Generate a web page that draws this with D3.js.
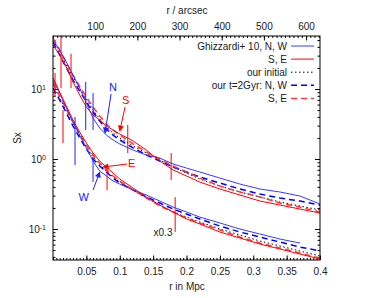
<!DOCTYPE html>
<html><head><meta charset="utf-8">
<script src="https://cdn.jsdelivr.net/npm/d3@7"></script>
<style>
body{margin:0;background:#fff}
text{font-family:"Liberation Sans",Arial,Helvetica,sans-serif;font-size:10px;fill:#222}
</style>
</head><body><svg id="c" width="374" height="298"></svg>
<script>
// ---- data ----
const rGrid = [0, 0.01, 0.02, 0.03, 0.04, 0.05, 0.06, 0.07, 0.08, 0.09, 0.1, 0.12, 0.14, 0.16, 0.18, 0.2, 0.22, 0.25, 0.28, 0.31, 0.34, 0.37, 0.4];

// upper group (N, S)
const upInitial = [50.1,33.8,22.0,14.8,10.3,7.2,5.01,3.73,2.86,2.35,2.0,1.53,1.22,0.968,0.768,0.631,0.518,0.411,0.338,0.287,0.243,0.213,0.187];
const ghN = [50.1,36.1,24.3,15.8,10.3,6.31,3.85,2.77,2.2,1.87,1.64,1.34,1.14,1.03,0.849,0.743,0.652,0.535,0.439,0.373,0.338,0.296,0.228];
const ghS = [42.5,30.6,20.6,12.6,8.2,5.53,4.25,3.61,2.96,2.6,2.28,1.81,1.34,0.936,0.697,0.572,0.469,0.373,0.306,0.251,0.22,0.193,0.169];
const simN = [46.9,30.6,20.0,13.4,9.36,6.52,4.69,3.49,2.68,2.2,1.87,1.44,1.14,0.936,0.768,0.652,0.553,0.454,0.373,0.316,0.277,0.251,0.22];
const simS = [53.5,36.1,23.5,15.8,11.0,7.69,5.53,4.11,3.16,2.6,2.2,1.64,1.26,1.0,0.794,0.652,0.535,0.411,0.338,0.287,0.235,0.206,0.175];

// lower group (W, E), scaled x0.3
const loInitial = [11.4,7.44,4.85,3.27,2.13,1.48,1.07,0.821,0.674,0.553,0.469,0.361,0.277,0.22,0.175,0.148,0.126,0.1,0.0821,0.0674,0.0572,0.0485,0.0411];
const ghW = [13.4,8.77,5.35,3.38,2.2,1.44,0.936,0.674,0.572,0.485,0.439,0.361,0.306,0.251,0.206,0.175,0.148,0.122,0.1,0.0849,0.0719,0.0631];
const ghE = [14.4,9.06,5.71,3.61,2.43,1.69,1.22,0.936,0.768,0.631,0.518,0.385,0.287,0.22,0.175,0.139,0.118,0.0906,0.0743,0.061,0.0518,0.0439,0.0373];
const simW = [10.3,6.97,4.54,2.96,2.0,1.39,1.0,0.794,0.652,0.535,0.454,0.361,0.287,0.235,0.193,0.164,0.139,0.11,0.0906,0.0768,0.0652,0.0553,0.0485];
const simE = [12.2,7.94,5.18,3.38,2.28,1.58,1.14,0.877,0.697,0.572,0.485,0.361,0.277,0.213,0.175,0.144,0.122,0.0968,0.0768,0.0631,0.0535,0.0454,0.0385];

// error bars
const redBarR  = [0.003, 0.012, 0.027, 0.015, 0.081, 0.112, 0.177, 0.183];
const redBarLo = [7.7, 10.3, 10.3, 1.69, 0.36, 1.22, 0.5, 0.091];
const redBarHi = [16.9, 60, 32, 5.0, 0.82, 3.06, 1.22, 0.286];
const blueBarR  = [0.049, 0.06, 0.033, 0.06];
const blueBarLo = [2.6, 2.6, 0.82, 0.47];
const blueBarHi = [12.6, 8.8, 4.0, 1.07];

// annotations: label, label pos, arrow from -> to
const annLabels = ["N", "S", "E", "W"];
const annLabelR = [0.09, 0.109, 0.118, 0.046];
const annLabelS = [10.7, 6.97, 0.877, 0.287];
const annFromR = [0.087, 0.108, 0.111, 0.06];
const annFromS = [8.5, 5.53, 0.849, 0.361];
const annToR = [0.078, 0.1, 0.075, 0.07];
const annToS = [2.35, 2.51, 0.768, 0.652];

const xTicks = [0.05, 0.1, 0.15, 0.2, 0.25, 0.3, 0.35, 0.4];
const x2Ticks = [100, 200, 300, 400, 500, 600];
const yTicks = [0.1, 1, 10];
const legendLabels = ["Ghizzardi+ 10, N, W", "S, E", "our initial", "our t=2Gyr: N, W", "S, E"];

// ---- styles ----
const C = {
  ghBlue: {stroke:"#3a3aff", w:1, dash:null},
  ghRed: {stroke:"#ff0000", w:1, dash:null},
  init: {stroke:"#000", w:1, dash:"1.5,2.5"},
  simBlue: {stroke:"#0000ff", w:1.5, dash:"6,4"},
  simRed: {stroke:"#ff3a3a", w:1.5, dash:"6,4"}
};
const legendStyles = [C.ghBlue, C.ghRed, C.init, C.simBlue, C.simRed];

const L=53, R=320, T=36, B=260;
const svg = d3.select("#c");
const x = d3.scaleLinear().domain([0,0.4]).range([L,R]);
const x2 = d3.scaleLinear().domain([0,633]).range([L,R]);
const y = d3.scaleLog().domain([0.0361, 57.2]).range([B,T]);

svg.append("defs").html(`
<clipPath id="clip"><rect x="${L}" y="${T}" width="${R-L}" height="${B-T}"/></clipPath>
<marker id="ab" viewBox="0 0 10 10" refX="9" refY="5" markerWidth="7" markerHeight="6" orient="auto" markerUnits="userSpaceOnUse"><path d="M0,0L10,5L0,10z" fill="#2020ff"/></marker>
<marker id="ar" viewBox="0 0 10 10" refX="9" refY="5" markerWidth="7" markerHeight="6" orient="auto" markerUnits="userSpaceOnUse"><path d="M0,0L10,5L0,10z" fill="#ff0000"/></marker>`);

// ---- axes ----
const minorX = d3.range(0, 0.4001, 0.005);
const minorX2 = d3.range(0, 634, 10);
const minorY = [];
[0.01,0.1,1,10].forEach(d => { for (let k=1;k<10;k++){ const v=d*k; if(v>=0.0361 && v<=57.2) minorY.push(v);} });

function clean(g){ g.select(".domain").remove(); g.selectAll(".tick line").attr("stroke","#000"); }

svg.append("g").attr("transform",`translate(0,${B})`)
  .call(d3.axisBottom(x).tickValues(minorX).tickSize(-2).tickFormat("")).call(clean);
svg.append("g").attr("transform",`translate(0,${B})`)
  .call(d3.axisBottom(x).tickValues(xTicks).tickSize(-4.5).tickPadding(8).tickFormat(d=>d3.format("")(d))).call(clean);

svg.append("g").attr("transform",`translate(0,${T})`)
  .call(d3.axisTop(x2).tickValues(minorX2).tickSize(-2).tickFormat("")).call(clean);
svg.append("g").attr("transform",`translate(0,${T})`)
  .call(d3.axisTop(x2).tickValues(x2Ticks).tickSize(-4.5).tickPadding(6.5)).call(clean);

svg.append("g").attr("transform",`translate(${L},0)`)
  .call(d3.axisLeft(y).tickValues(minorY).tickSize(-2.5).tickFormat("")).call(clean);
const yl = svg.append("g").attr("transform",`translate(${L},0)`)
  .call(d3.axisLeft(y).tickValues(yTicks).tickSize(-5).tickPadding(7)).call(clean);
yl.selectAll(".tick text").each(function(d){
  const t = d3.select(this); t.text(null).attr("dy","0.32em");
  t.append("tspan").text("10");
  t.append("tspan").attr("dy","-0.45em").attr("font-size","7px").text(String(Math.round(Math.log10(d))));
});
svg.append("g").attr("transform",`translate(${R},0)`)
  .call(d3.axisRight(y).tickValues(minorY).tickSize(-2.5).tickFormat("")).call(clean);
svg.append("g").attr("transform",`translate(${R},0)`)
  .call(d3.axisRight(y).tickValues(yTicks).tickSize(-5).tickFormat("")).call(clean);

svg.selectAll(".tick text").attr("font-family",null).attr("font-size",function(){return d3.select(this).attr("font-size")||null;}).style("fill","#222");

// axis titles
svg.append("text").attr("x",187).attr("y",14).attr("text-anchor","middle").text("r / arcsec");
svg.append("text").attr("x",187).attr("y",290).attr("text-anchor","middle").text("r in Mpc");
svg.append("text").attr("transform","translate(21,138) rotate(-90)").attr("text-anchor","middle").text("Sx");

// ---- curves ----
const plot = svg.append("g").attr("clip-path","url(#clip)");
const line = d3.line().x(d=>x(d[0])).y(d=>y(d[1]));
function draw(vals, st){
  const pts = vals.map((v,i)=>[rGrid[i], v]);
  plot.append("path").attr("d", line(pts)).attr("fill","none")
    .attr("stroke", st.stroke).attr("stroke-width", st.w)
    .attr("stroke-dasharray", st.dash);
}
draw(upInitial, C.init); draw(loInitial, C.init);
draw(simN, C.simBlue); draw(simW, C.simBlue);
draw(simS, C.simRed); draw(simE, C.simRed);
draw(ghN, C.ghBlue); draw(ghW, C.ghBlue);
draw(ghS, C.ghRed); draw(ghE, C.ghRed);

// error bars
redBarR.forEach((r,i)=>plot.append("line").attr("x1",x(r)).attr("x2",x(r))
  .attr("y1",y(redBarLo[i])).attr("y2",y(redBarHi[i])).attr("stroke","#ff0000").attr("stroke-width",1));
blueBarR.forEach((r,i)=>plot.append("line").attr("x1",x(r)).attr("x2",x(r))
  .attr("y1",y(blueBarLo[i])).attr("y2",y(blueBarHi[i])).attr("stroke","#2020ff").attr("stroke-width",1));

// annotations
annLabels.forEach((lab,i)=>{
  const blue = (lab==="N"||lab==="W");
  const col = blue ? "#2020ff" : "#ff0000";
  svg.append("line").attr("x1",x(annFromR[i])).attr("y1",y(annFromS[i]))
    .attr("x2",x(annToR[i])).attr("y2",y(annToS[i]))
    .attr("stroke",col).attr("stroke-width",1).attr("marker-end", blue?"url(#ab)":"url(#ar)");
  svg.append("text").attr("x",x(annLabelR[i])).attr("y",y(annLabelS[i])).attr("dy","0.35em")
    .attr("text-anchor","middle").style("font-size","11px").style("fill",col).text(lab);
});
svg.append("text").attr("x",163).attr("y",236).attr("text-anchor","middle").text("x0.3");

// frame
svg.append("rect").attr("x",L).attr("y",T).attr("width",R-L).attr("height",B-T)
  .attr("fill","none").attr("stroke","#000").attr("stroke-width",1);

// legend
legendLabels.forEach((lab,i)=>{
  const yy = 46 + i*13.1;
  svg.append("text").attr("x",287).attr("y",yy).attr("dy","0.35em").attr("text-anchor","end").text(lab);
  const st = legendStyles[i];
  svg.append("line").attr("x1",291).attr("x2",314).attr("y1",yy).attr("y2",yy)
    .attr("stroke",st.stroke).attr("stroke-width",st.w).attr("stroke-dasharray",st.dash);
});
</script>
</body></html>
